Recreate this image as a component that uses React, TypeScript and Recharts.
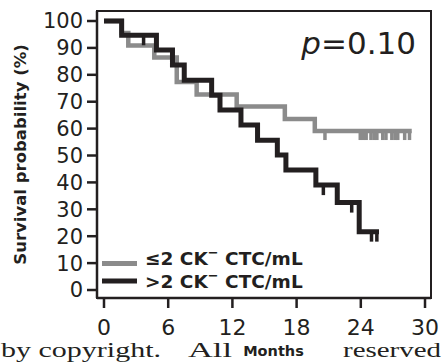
import React from "react";
import {
  ComposedChart,
  Line,
  Scatter,
  XAxis,
  YAxis,
  ReferenceArea,
} from "recharts";

// Kaplan-Meier steps (months, survival %)
const seriesNames = ["≤2 CK⁻ CTC/mL", ">2 CK⁻ CTC/mL"];
const lowTimes = [0, 1.65, 2.27, 4.7, 6.8, 8.66, 12.4, 16.9, 19.7, 28.76];
const lowSurv = [100, 95.5, 90.9, 86.4, 77.3, 72.7, 68.2, 63.6, 59.1, 59.1];
const lowCensor = [
  20.65, 23.95, 24.25, 24.5, 24.95, 25.25, 25.5, 26.05, 26.35, 26.9, 27.2,
  27.45, 28.1, 28.55,
];
const highTimes = [
  0, 1.65, 4.9, 6.4, 7.5, 10.06, 10.84, 12.8, 14.35, 16.2, 17.0, 19.8, 21.8,
  23.85, 25.7,
];
const highSurv = [
  100, 94.7, 89.2, 83.6, 78.0, 72.4, 66.9, 61.3, 55.7, 50.2, 44.6, 39.0, 32.5,
  21.7, 21.7,
];
const highCensor = [3.7, 20.5, 23.15, 25.0, 25.5];
const xTicks = [0, 6, 12, 18, 24, 30];
const yTicks = [0, 10, 20, 30, 40, 50, 60, 70, 80, 90, 100];

const INK = "#231f20";
const GREY = "#8b8b8b";
const FONT = "'DejaVu Sans', sans-serif";
const X_DOMAIN: [number, number] = [-0.654, 30.56];
const Y_DOMAIN: [number, number] = [-2.97, 103.72];

const toSteps = (times: number[], surv: number[]) =>
  times.map((t, i) => ({ t, s: surv[i] }));

const survAt = (times: number[], surv: number[], t: number) => {
  let v = surv[0];
  times.forEach((tt, i) => {
    if (tt <= t) v = surv[i];
  });
  return v;
};

const toCensor = (times: number[], surv: number[], cens: number[]) =>
  cens.map((t) => ({ t, s: survAt(times, surv, t) }));

const censorMark = (color: string, h: number) => (props: any) => (
  <rect x={props.cx - 1.75} y={props.cy} width={3.5} height={h} fill={color} />
);

// draws the "⁻" of a legend name as a raised small minus
function LegendName({ x, y, name }: { x: number; y: number; name: string }) {
  const [a, b] = name.split("⁻");
  return (
    <text x={x} y={y} fontFamily={FONT} fontWeight="bold" fontSize={18.5} fill={INK}>
      {a}
      <tspan dy={-8} fontSize={13}>
        −
      </tspan>
      <tspan dy={8}>{b}</tspan>
    </text>
  );
}

export default function App() {
  const low = toSteps(lowTimes, lowSurv);
  const high = toSteps(highTimes, highSurv);
  const lowC = toCensor(lowTimes, lowSurv, lowCensor);
  const highC = toCensor(highTimes, highSurv, highCensor);

  return (
    <div
      style={{
        position: "absolute",
        left: 0,
        top: 0,
        width: 444,
        height: 362,
        background: "#fff",
        overflow: "hidden",
      }}
    >
      <ComposedChart
        width={444}
        height={362}
        margin={{ top: 11, right: 13, left: 0, bottom: 0 }}
      >
        <XAxis
          dataKey="t"
          type="number"
          domain={X_DOMAIN}
          ticks={xTicks}
          interval={0}
          allowDataOverflow
          height={64}
          axisLine={{ stroke: INK, strokeWidth: 2.5 }}
          tickLine={{ stroke: INK, strokeWidth: 2.5 }}
          tickSize={10}
          tickMargin={11}
          tick={{ fontSize: 22, fontFamily: FONT, fill: INK }}
        />
        <YAxis
          type="number"
          domain={Y_DOMAIN}
          ticks={yTicks}
          interval={0}
          allowDataOverflow
          width={97}
          axisLine={{ stroke: INK, strokeWidth: 2.5 }}
          tickLine={{ stroke: INK, strokeWidth: 2.5 }}
          tickSize={10}
          tickMargin={4}
          tick={{ fontSize: 21, fontFamily: FONT, fill: INK }}
        />
        <ReferenceArea
          x1={X_DOMAIN[0]}
          x2={X_DOMAIN[1]}
          y1={Y_DOMAIN[0]}
          y2={Y_DOMAIN[1]}
          fill="none"
          stroke={INK}
          strokeWidth={2}
        />
        <Line
          data={low}
          dataKey="s"
          type="stepAfter"
          stroke={GREY}
          strokeWidth={4.5}
          dot={false}
          isAnimationActive={false}
        />
        <Scatter
          data={lowC}
          dataKey="s"
          shape={censorMark(GREY, 9)}
          isAnimationActive={false}
        />
        <Line
          data={high}
          dataKey="s"
          type="stepAfter"
          stroke={INK}
          strokeWidth={5}
          dot={false}
          isAnimationActive={false}
        />
        <Scatter
          data={highC}
          dataKey="s"
          shape={censorMark(INK, 10)}
          isAnimationActive={false}
        />
      </ComposedChart>
      <svg
        width={444}
        height={362}
        style={{ position: "absolute", left: 0, top: 0, pointerEvents: "none" }}
      >
        <text
          transform="translate(26,154.5) rotate(-90)"
          textAnchor="middle"
          fontFamily={FONT}
          fontWeight="bold"
          fontSize={16.5}
          fill={INK}
        >
          Survival probability (%)
        </text>
        <text
          x={416}
          y={53.5}
          textAnchor="end"
          fontFamily={FONT}
          fontSize={31}
          fill={INK}
        >
          <tspan fontStyle="italic">p</tspan>=0.10
        </text>
        <line x1={102} x2={137} y1={263.5} y2={263.5} stroke={GREY} strokeWidth={5} />
        <line x1={102} x2={137} y1={281} y2={281} stroke={INK} strokeWidth={5} />
        <LegendName x={145} y={264.5} name={seriesNames[0]} />
        <LegendName x={145} y={287.5} name={seriesNames[1]} />
        <g fontFamily="'Liberation Serif', serif" fontSize={20} fill={INK}>
          <text x={1} y={356.5} textLength={160} lengthAdjust="spacingAndGlyphs">
            by copyright.
          </text>
          <text x={188} y={356.5} textLength={44} lengthAdjust="spacingAndGlyphs">
            All
          </text>
          <text x={343} y={356.5} textLength={98} lengthAdjust="spacingAndGlyphs">
            reserved
          </text>
        </g>
        <text
          x={273.5}
          y={356}
          textAnchor="middle"
          fontFamily={FONT}
          fontWeight="bold"
          fontSize={14.5}
          fill={INK}
        >
          Months
        </text>
      </svg>
    </div>
  );
}
